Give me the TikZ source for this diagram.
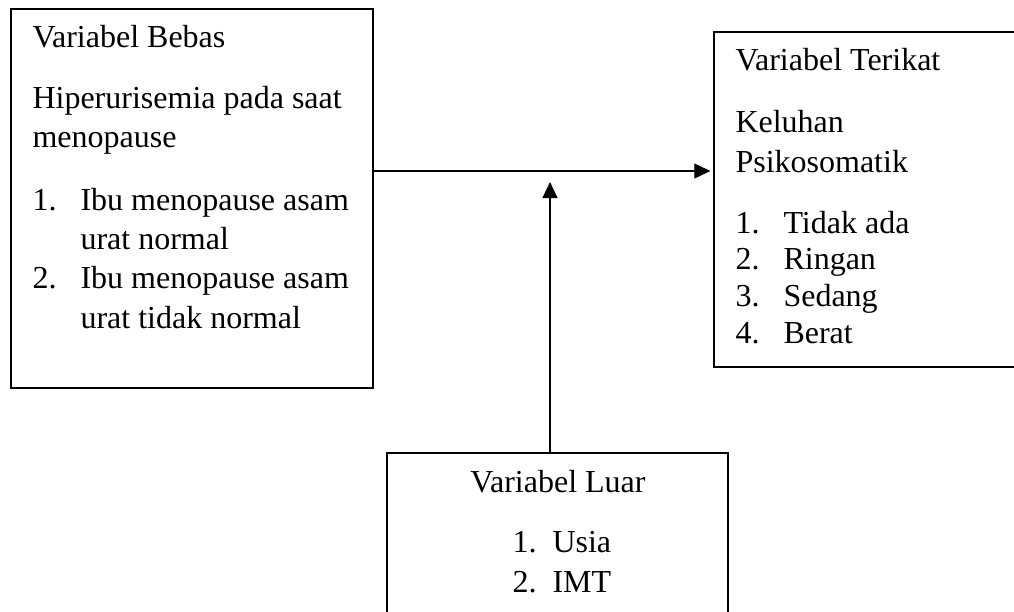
\documentclass[tikz,border=0pt]{standalone}
\usepackage{fontspec}
\setmainfont{Liberation Serif}
\usetikzlibrary{arrows.meta}
\tikzset{
  kotak/.style={draw, line width=0.75pt, anchor=north west, inner sep=0pt},
  teks/.style={anchor=base west, inner sep=0pt, align=left},
  panah/.style={-{Triangle[length=6pt,width=5.6pt]}, line width=0.45pt}
}
\newcommand{\butir}[1]{\makebox[18pt][l]{#1}}
\begin{document}
\begin{tikzpicture}[x=0.375pt,y=-0.375pt,font=\fontsize{12}{14.7}\selectfont]
  \fill[white] (0,0) rectangle (1014,611);
  \clip (0,0) rectangle (1014,611);
  \node[kotak, minimum width=135.75pt, minimum height=142.1pt] (bebas) at (10,8) {};
  \node[kotak, minimum width=118.9pt, minimum height=125.6pt] (terikat) at (713,31) {};
  \node[kotak, minimum width=127.9pt, minimum height=82.5pt] (luar) at (386,452) {};
  \node[teks] (bebasjudul) at (32,47) {Variabel Bebas};
  \node[teks, font=\fontsize{12}{14.6}\selectfont] (bebasisi) at (32,147) {Hiperurisemia pada saat\\menopause};
  \node[teks, font=\fontsize{12}{14.75}\selectfont] (bebasdaftar) at (32,328) {\butir{1.}Ibu menopause asam\\
    \hspace*{18pt}urat normal\\
    \butir{2.}Ibu menopause asam\\
    \hspace*{18pt}urat tidak normal};
  \node[teks] (terikatjudul) at (735,70) {Variabel Terikat};
  \node[teks, font=\fontsize{12}{15}\selectfont] (terikatisi) at (735,172) {Keluhan\\Psikosomatik};
  \node[teks, font=\fontsize{12}{13.75}\selectfont] (terikatdaftar) at (735,343)
    {\butir{1.}Tidak ada\\\butir{2.}Ringan\\\butir{3.}Sedang\\\butir{4.}Berat};
  \node[teks, anchor=base] (luarjudul) at (558,492) {Variabel Luar};
  \node[teks, font=\fontsize{12}{15}\selectfont] (luardaftar) at (512,592)
    {\makebox[15pt][l]{1.}Usia\\\makebox[15pt][l]{2.}IMT};
  \coordinate (tengah) at (550,171);
  \coordinate (ujung) at (550,182);
  \draw[panah] (bebas.east |- tengah) -- ([xshift=-1pt]terikat.west |- tengah);
  \draw[panah] (luar.north -| ujung) -- (ujung);
\end{tikzpicture}
\end{document}
